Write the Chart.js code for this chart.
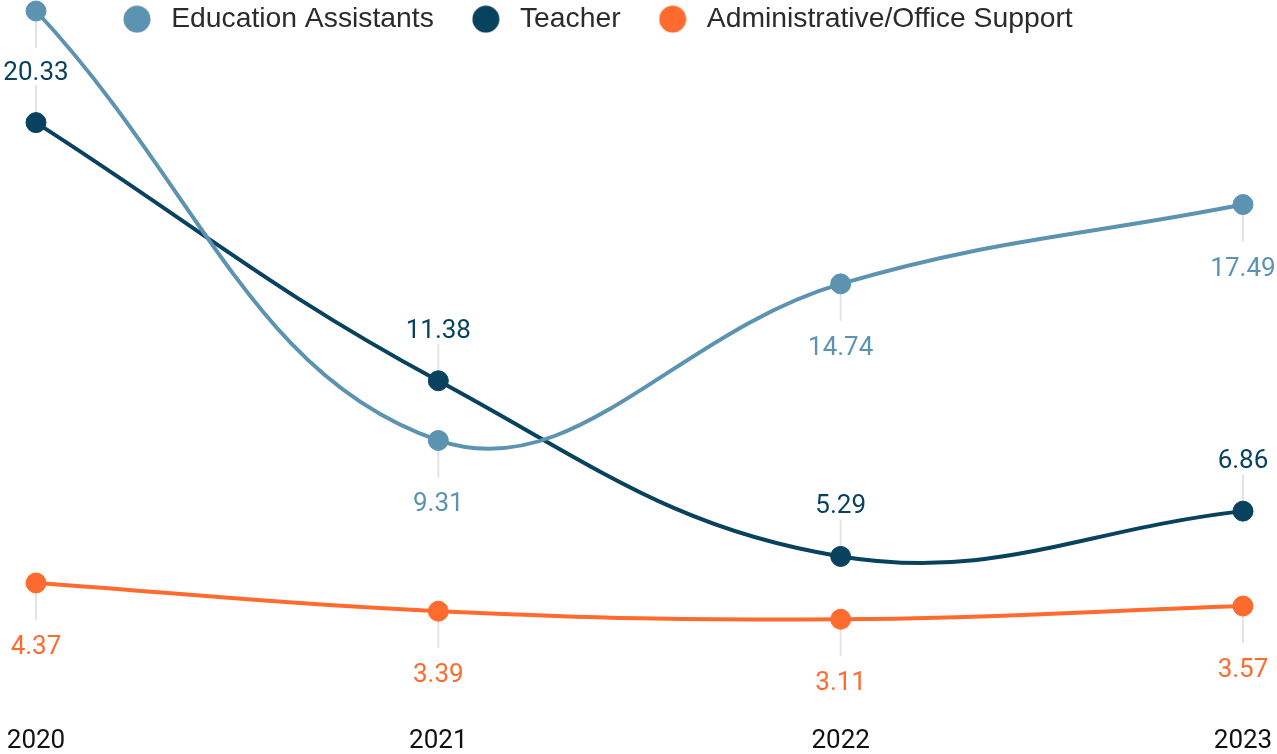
<!DOCTYPE html>
<html lang="en">
<head>
<meta charset="utf-8">
<title>Staff turnover by role</title>
<script src="https://cdn.jsdelivr.net/npm/chart.js@4.4.1/dist/chart.umd.min.js"></script>
<style>
  html, body { margin: 0; padding: 0; background: #ffffff; }
  #wrap { width: 1277px; height: 754px; position: relative; }
  canvas { display: block; }
</style>
</head>
<body>
<div id="wrap"><canvas id="chart" width="1277" height="754"></canvas></div>
<script>
// Categories and series values
const years = ['2020', '2021', '2022', '2023'];
const educationAssistants = [24.2, 9.31, 14.74, 17.49];
const teacher = [20.33, 11.38, 5.29, 6.86];
const adminSupport = [4.37, 3.39, 3.11, 3.57];

const seriesNames = ['Education Assistants', 'Teacher', 'Administrative/Office Support'];
const seriesColors = ['#5B93B1', '#08425F', '#FF6B2E'];

// Round legend markers drawn on a small canvas so the marker box can be wider than the dot
function legendDot(color) {
  const c = document.createElement('canvas');
  c.width = 28; c.height = 28;
  const g = c.getContext('2d');
  g.fillStyle = color;
  g.beginPath();
  g.arc(14, 14, 13.5, 0, Math.PI * 2);
  g.fill();
  return c;
}

// Legend floats over the plot instead of taking vertical space
const floatingLegend = {
  id: 'floatingLegend',
  afterInit(chart) {
    const legend = chart.legend;
    const fit = legend.fit;
    legend.fit = function () {
      fit.call(this);
      this.fullHeight = this.height;
      this.height = 0;
    };
  },
  afterLayout(chart, args, opts) {
    const legend = chart.legend;
    legend.left = opts.left;
    legend.top = opts.top;
    legend.height = legend.fullHeight;
    legend.bottom = opts.top + legend.fullHeight;
  }
};

// Value labels with thin leader lines, hiding labels that collide
const valueLabels = {
  id: 'valueLabels',
  beforeDatasetsDraw(chart, args, opts) {
    const ctx = chart.ctx;
    ctx.save();
    ctx.strokeStyle = opts.leaderColor;
    ctx.lineWidth = opts.leaderWidth;
    chart.data.datasets.forEach((ds, di) => {
      const meta = chart.getDatasetMeta(di);
      const dir = ds.labelSide === 'above' ? -1 : 1;
      meta.data.forEach(pt => {
        ctx.beginPath();
        ctx.moveTo(pt.x, pt.y);
        ctx.lineTo(pt.x, pt.y + dir * opts.leaderLength);
        ctx.stroke();
      });
    });
    ctx.restore();
  },
  afterDatasetsDraw(chart, args, opts) {
    const ctx = chart.ctx;
    ctx.save();
    ctx.font = opts.size + 'px ' + opts.family;
    ctx.textAlign = 'center';
    ctx.textBaseline = 'alphabetic';
    const capH = opts.size * 0.72;
    const placed = [];
    for (let di = chart.data.datasets.length - 1; di >= 0; di--) {
      const ds = chart.data.datasets[di];
      const meta = chart.getDatasetMeta(di);
      meta.data.forEach((pt, i) => {
        const text = ds.data[i].toFixed(2);
        const w = ctx.measureText(text).width;
        const base = ds.labelSide === 'above' ? pt.y - opts.aboveGap : pt.y + opts.belowGap;
        const box = { x1: pt.x - w / 2, x2: pt.x + w / 2, y1: base - capH, y2: base };
        const hit = placed.some(b => box.x1 < b.x2 && box.x2 > b.x1 && box.y1 < b.y2 && box.y2 > b.y1);
        if (hit) return;
        placed.push(box);
        ctx.fillStyle = ds.borderColor;
        ctx.fillText(text, pt.x, base);
      });
    }
    ctx.restore();
  }
};

function series(label, values, color, side) {
  return {
    label: label,
    data: values,
    borderColor: color,
    backgroundColor: color,
    pointBackgroundColor: color,
    pointBorderColor: color,
    borderWidth: 4,
    pointRadius: 10,
    pointHoverRadius: 10,
    pointBorderWidth: 1,
    tension: 0.4,
    fill: false,
    clip: false,
    labelSide: side
  };
}

const allValues = educationAssistants.concat(teacher, adminSupport);

new Chart(document.getElementById('chart'), {
  type: 'line',
  data: {
    labels: years,
    datasets: [
      series(seriesNames[0], educationAssistants, seriesColors[0], 'below'),
      series(seriesNames[1], teacher, seriesColors[1], 'above'),
      series(seriesNames[2], adminSupport, seriesColors[2], 'below')
    ]
  },
  options: {
    responsive: false,
    animation: false,
    events: [],
    layout: { padding: { top: 10, left: 36, right: 34, bottom: 0 } },
    scales: {
      x: {
        grid: { display: false, drawTicks: false },
        border: { display: false },
        afterFit(scale) { scale.height = 45; },
        ticks: {
          padding: 4,
          color: '#111111',
          font: { family: 'Roboto', size: 26, lineHeight: 2.19 },
          maxRotation: 0,
          autoSkip: false
        }
      },
      y: {
        display: false,
        min: 0,
        max: Math.max.apply(null, allValues)
      }
    },
    plugins: {
      tooltip: { enabled: false },
      legend: {
        position: 'top',
        align: 'start',
        labels: {
          usePointStyle: true,
          pointStyleWidth: 40,
          boxHeight: 28,
          padding: 32,
          color: '#2B2B2B',
          font: { family: 'Liberation Sans', size: 28.3 },
          generateLabels(chart) {
            const items = Chart.defaults.plugins.legend.labels.generateLabels(chart);
            items.forEach(item => {
              item.pointStyle = legendDot(chart.data.datasets[item.datasetIndex].borderColor);
            });
            return items;
          }
        }
      },
      floatingLegend: { left: 85, top: -27 },
      valueLabels: {
        family: 'Roboto',
        size: 26,
        aboveGap: 43,
        belowGap: 71,
        leaderLength: 37,
        leaderColor: '#E3E3E3',
        leaderWidth: 2
      }
    }
  },
  plugins: [floatingLegend, valueLabels]
});
</script>
</body>
</html>
